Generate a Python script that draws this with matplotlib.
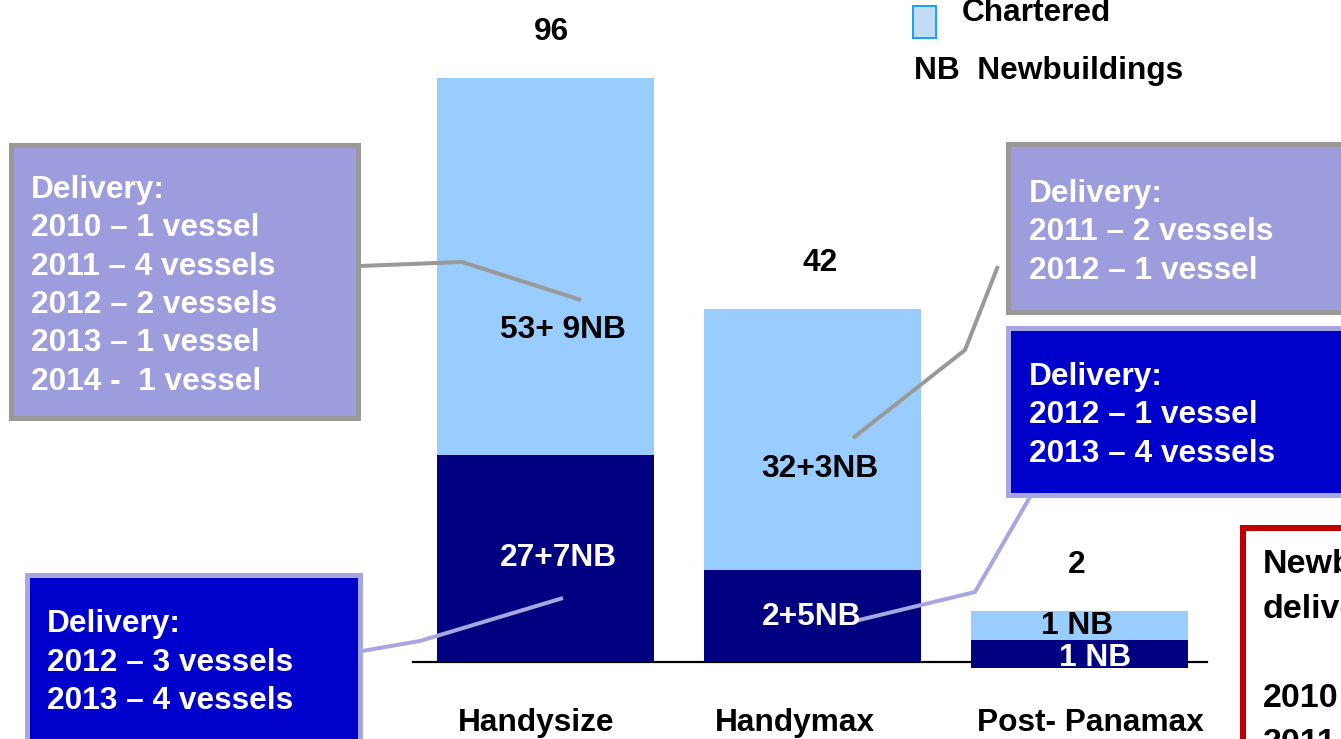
import matplotlib
matplotlib.use('Agg')
import matplotlib.pyplot as plt
from matplotlib.patches import Rectangle
from matplotlib.lines import Line2D
from matplotlib.transforms import blended_transform_factory

plt.rcParams['font.family'] = ['Liberation Sans', 'DejaVu Sans']
plt.rcParams['font.weight'] = 'bold'

W, H = 1341, 739

# fleet by segment
categories = ['Handysize', 'Handymax', 'Post- Panamax']
totals = [96, 42, 2]
# the slide is not drawn to scale, these are the bar heights as drawn
owned_drawn = [34, 15.1, 4.6]
chartered_drawn = [62, 42.9, 4.8]
owned_labels = ['27+7NB', '2+5NB', '1 NB']
chartered_labels = ['53+ 9NB', '32+3NB', '1 NB']

# delivery call-outs
handysize_chartered_delivery = ['Delivery:', '2010 – 1 vessel', '2011 – 4 vessels',
                                '2012 – 2 vessels', '2013 – 1 vessel', '2014 -  1 vessel']
handysize_owned_delivery = ['Delivery:', '2012 – 3 vessels', '2013 – 4 vessels']
handymax_chartered_delivery = ['Delivery:', '2011 – 2 vessels', '2012 – 1 vessel']
handymax_owned_delivery = ['Delivery:', '2012 – 1 vessel', '2013 – 4 vessels']
newbuild_note = ['Newbuildings', 'delivery:', '', '2010', '2011']

LIGHT = '#99CCFF'
NAVY = '#000080'
PURPLE = '#9D9DDD'
GREY = '#999999'
BLUE = '#0000CC'
LILAC = '#A6A6E0'
RED = '#C00000'
FS = 22.8
PX_PER_UNIT = 6.083


def fx(px):
    return px / W


def fy(py):
    return 1 - py / H


def pt(px):
    return px * 72 / 100


fig = plt.figure(figsize=(W / 100, H / 100), dpi=100)

# bar axes in pixel layout: baseline at y=662, x from 413 to 1207
ax = fig.add_axes([fx(413), fy(662), (1207 - 413) / W, 662 / H])
ax.patch.set_alpha(0)
x = list(range(len(categories)))
# the small Post-Panamax bar sits a little below the axis line on the slide
bar_base = [0, 0, -6 / PX_PER_UNIT]
tops_owned = [b + o for b, o in zip(bar_base, owned_drawn)]
ax.bar(x, owned_drawn, width=0.813, bottom=bar_base, color=NAVY, zorder=2, clip_on=False)
ax.bar(x, chartered_drawn, width=0.813, bottom=tops_owned, color=LIGHT, zorder=2)
ax.set_xlim(-0.496, 2.478)
ax.set_ylim(0, 662 / PX_PER_UNIT)
for s in ['top', 'left', 'right']:
    ax.spines[s].set_visible(False)
ax.spines['bottom'].set_linewidth(pt(2.2))
ax.spines['bottom'].set_zorder(1)
ax.set_yticks([])
ax.set_xticks([])

# category names, nudged as on the slide
trans = blended_transform_factory(ax.transData, fig.transFigure)
name_shift = [-9.5, -17, 11.5]
for i, name in enumerate(categories):
    ax.text(i + name_shift[i] / 267, fy(731), name, transform=trans, ha='center',
            va='baseline', fontsize=FS, fontweight='bold', clip_on=False)

total_shift = [6, 8, -3]
for i, t in enumerate(totals):
    ax.annotate(str(t), (i, tops_owned[i] + chartered_drawn[i]),
                xytext=(pt(total_shift[i]), pt(38)), textcoords='offset points',
                ha='center', va='baseline', fontsize=FS, fontweight='bold')

# segment labels (positions as laid out on the slide)
seg_pos_chartered = [(563, 338), (820, 477), (1077, 634)]
seg_pos_owned = [(558, 566), (812, 625), (1095, 666)]
for lab, (px, py) in zip(chartered_labels, seg_pos_chartered):
    fig.text(fx(px), fy(py), lab, ha='center', va='baseline', fontsize=FS,
             fontweight='bold', color='black', zorder=5)
for lab, (px, py) in zip(owned_labels, seg_pos_owned):
    fig.text(fx(px), fy(py), lab, ha='center', va='baseline', fontsize=FS,
             fontweight='bold', color='white', zorder=5)


def callout(x0, y0, x1, y1, face, edge, border, lines, tx, base, step=38.3,
            color='white', size=FS):
    r = Rectangle((fx(x0 + border / 2), fy(y1 - border / 2)),
                  (x1 - x0 - border) / W, (y1 - y0 - border) / H,
                  transform=fig.transFigure, facecolor=face, edgecolor=edge,
                  linewidth=pt(border), zorder=3, clip_on=False)
    fig.add_artist(r)
    for k, line in enumerate(lines):
        fig.text(fx(tx), fy(base + k * step), line, ha='left', va='baseline',
                 fontsize=size, fontweight='bold', color=color, zorder=4)


def connector(pts, color):
    xs = [fx(p[0]) for p in pts]
    ys = [fy(p[1]) for p in pts]
    fig.add_artist(Line2D(xs, ys, transform=fig.transFigure, color=color,
                          linewidth=pt(4), zorder=2.5, solid_capstyle='butt'))


connector([(360, 266), (462, 262), (581, 300)], GREY)
connector([(362, 651), (420, 641), (563, 598)], LILAC)
connector([(853, 438), (965, 350), (998, 266)], GREY)
connector([(855, 621), (975, 592), (1030, 497)], LILAC)

callout(8, 142, 361, 420, PURPLE, GREY, 5, handysize_chartered_delivery, 31, 198)
callout(1006, 142, 1360, 315, PURPLE, GREY, 5, handymax_chartered_delivery, 1029, 202)
callout(1006, 325, 1360, 497, BLUE, LILAC, 5, handymax_owned_delivery, 1029, 385)
callout(24, 573, 363, 760, BLUE, LILAC, 5, handysize_owned_delivery, 47, 632, step=38.7)
# note box runs off the right edge of the slide crop
callout(1240, 525, 1380, 780, 'white', RED, 6, newbuild_note, 1263, 573,
        step=44.7, color='black', size=24.5)

# legend remains
fig.add_artist(Rectangle((fx(913), fy(38)), 23 / W, 32 / H, transform=fig.transFigure,
                         facecolor='#C2DDF5', edgecolor='#1EA0FF', linewidth=pt(2)))
fig.text(fx(962), fy(21), 'Chartered', ha='left', va='baseline', fontsize=FS,
         fontweight='bold')
fig.text(fx(914), fy(79), 'NB  Newbuildings', ha='left', va='baseline', fontsize=FS,
         fontweight='bold')

fig.savefig('out.png', dpi=100)
plt.close(fig)
